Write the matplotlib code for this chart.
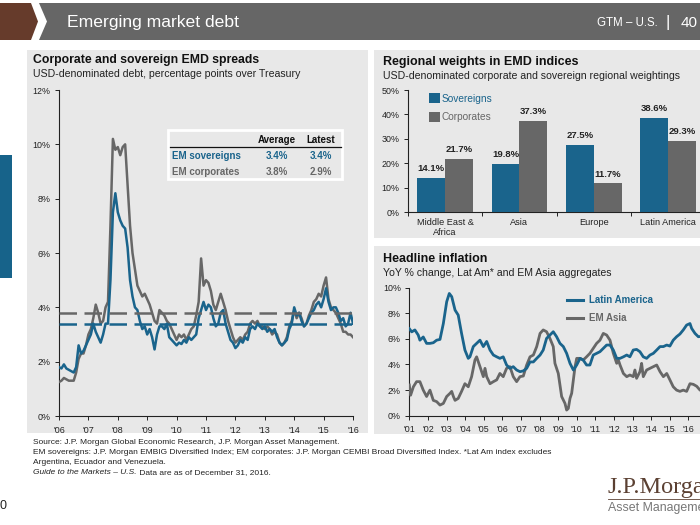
import matplotlib
matplotlib.use('Agg')
import matplotlib.pyplot as plt
import numpy as np
from matplotlib.patches import Rectangle, Polygon

plt.rcParams['font.family'] = ['Liberation Sans', 'DejaVu Sans']

BLUE = '#1a648c'
GRAY = '#676767'
PANEL = '#e8e8e8'
BROWN = '#663b2b'

# ---------------- data ----------------
spread_dates = 2006 + np.arange(121) / 12
sov_spread = [1.8, 1.75, 1.9, 1.75, 1.7, 1.65, 1.6, 1.8, 2.6, 2.3, 2.4, 2.6,
              2.8, 3.0, 3.4, 3.1, 2.9, 2.7, 3.0, 3.4, 3.4, 5.0, 7.5, 8.2,
              7.5, 7.2, 7.0, 6.9, 6.2, 5.0, 4.4, 4.0, 3.9, 3.5, 3.2, 3.3,
              3.0, 3.2, 2.9, 2.45, 3.0, 3.3, 3.3, 3.2, 3.4, 2.9, 2.8, 2.7,
              2.6, 2.7, 2.65, 2.8, 2.7, 2.9, 2.8, 2.9, 3.0, 3.6, 3.9, 4.2,
              3.9, 4.1, 4.0, 3.6, 3.3, 3.4, 3.8, 3.9, 3.4, 3.1, 2.8, 2.7,
              2.5, 2.6, 2.8, 2.7, 2.9, 2.8, 3.2, 3.3, 3.2, 3.4, 3.3, 3.2,
              3.3, 3.1, 3.2, 3.1, 3.2, 2.9, 2.7, 2.6, 2.7, 2.8, 3.2, 3.4,
              4.0, 3.7, 3.8, 3.5, 3.3, 3.4, 3.6, 3.8, 3.9, 4.1, 4.2, 4.0,
              4.3, 4.7, 4.2, 3.9, 4.0, 4.0, 3.8, 3.5, 3.6, 3.3, 3.4, 3.8, 3.4]
corp_spread = [1.25, 1.3, 1.4, 1.35, 1.3, 1.3, 1.3, 1.6, 2.1, 2.3, 2.3, 2.6,
               3.0, 3.2, 3.6, 4.1, 3.8, 3.4, 3.5, 4.0, 4.2, 7.0, 10.2, 9.8,
               9.9, 9.6, 9.9, 10.0, 8.5, 7.0, 6.0, 5.4, 4.8, 4.6, 4.4, 4.5,
               4.3, 4.1, 3.8, 3.5, 3.4, 3.9, 3.8, 3.7, 3.5, 3.4, 3.2, 3.0,
               2.8, 3.0, 2.9, 3.0, 2.8, 3.0, 3.2, 3.3, 3.7, 4.2, 5.8, 4.8,
               5.0, 4.9, 4.6, 4.1, 3.9, 4.2, 4.5, 4.2, 3.9, 3.5, 3.2, 2.9,
               2.7, 2.8, 2.9, 2.8, 3.0, 3.1, 3.4, 3.5, 3.4, 3.5, 3.3, 3.3,
               3.2, 3.3, 3.2, 3.0, 3.1, 3.0, 2.7, 2.6, 2.7, 2.9, 3.3, 3.5,
               3.9, 3.6, 3.8, 3.6, 3.3, 3.4, 3.7, 3.9, 4.2, 4.3, 4.5, 4.4,
               4.8, 5.1, 4.3, 4.0, 3.9, 3.8, 3.6, 3.4, 3.1, 3.1, 3.0, 3.0, 2.9]
sov_avg = 3.4
corp_avg = 3.8
table_rows = ['EM sovereigns', 'EM corporates']
table_avg = ['3.4%', '3.8%']
table_latest = ['3.4%', '2.9%']

regions = ['Middle East &\nAfrica', 'Asia', 'Europe', 'Latin America']
sovereign_w = [14.1, 19.8, 27.5, 38.6]
corporate_w = [21.7, 37.3, 11.7, 29.3]

latam_years = [2001.00, 2001.13, 2001.30, 2001.48, 2001.57, 2001.75, 2001.93, 2002.11,
               2002.29, 2002.47, 2002.65, 2002.83, 2003.01, 2003.15, 2003.28, 2003.46,
               2003.63, 2003.81, 2003.99, 2004.17, 2004.26, 2004.44, 2004.62, 2004.80,
               2004.98, 2005.16, 2005.34, 2005.52, 2005.70, 2005.87, 2006.05, 2006.23,
               2006.41, 2006.59, 2006.77, 2006.95, 2007.13, 2007.31, 2007.49, 2007.67,
               2007.85, 2008.03, 2008.20, 2008.38, 2008.56, 2008.74, 2008.92, 2009.10,
               2009.28, 2009.46, 2009.64, 2009.82, 2010.00, 2010.18, 2010.35, 2010.53,
               2010.71, 2010.89, 2011.07, 2011.25, 2011.43, 2011.61, 2011.79, 2011.97,
               2012.15, 2012.33, 2012.51, 2012.69, 2012.86, 2013.04, 2013.22, 2013.40,
               2013.58, 2013.76, 2013.94, 2014.12, 2014.30, 2014.48, 2014.66, 2014.84,
               2015.01, 2015.19, 2015.37, 2015.55, 2015.73, 2015.91, 2016.09, 2016.18,
               2016.36, 2016.54, 2016.72]
latam_cpi = [6.8, 6.55, 6.7, 6.3, 5.9, 6.15, 5.65, 5.65,
             5.7, 5.9, 5.96, 7.2, 8.9, 9.55, 9.3, 8.25,
             7.86, 6.43, 5.13, 4.48, 4.6, 5.4, 5.65, 5.9,
             5.4, 5.8, 5.13, 4.74, 4.6, 4.48, 4.6, 3.96,
             3.7, 3.83, 3.57, 3.44, 3.5, 3.7, 4.2, 4.2,
             4.48, 4.74, 5.13, 6.04, 6.3, 6.56, 6.17, 5.65,
             5.4, 4.87, 4.09, 3.57, 3.96, 4.48, 4.35, 3.96,
             3.96, 4.74, 4.87, 5.0, 5.26, 5.52, 5.52, 5.13,
             4.48, 4.48, 4.6, 4.74, 4.6, 5.13, 5.18, 5.0,
             4.6, 4.48, 4.74, 4.87, 5.13, 5.4, 5.4, 5.52,
             5.44, 5.9, 6.17, 6.38, 6.7, 7.08, 7.2, 6.82,
             6.43, 6.17, 6.2]
asia_years = [2001.00, 2001.07, 2001.22, 2001.39, 2001.57, 2001.75, 2001.93, 2002.11,
              2002.29, 2002.47, 2002.65, 2002.83, 2003.01, 2003.19, 2003.28, 2003.37,
              2003.46, 2003.63, 2003.81, 2003.99, 2004.17, 2004.35, 2004.53, 2004.62,
              2004.80, 2004.98, 2005.07, 2005.16, 2005.34, 2005.52, 2005.70, 2005.87,
              2006.05, 2006.23, 2006.41, 2006.59, 2006.77, 2006.95, 2007.13, 2007.31,
              2007.49, 2007.67, 2007.85, 2008.03, 2008.20, 2008.38, 2008.56, 2008.74,
              2008.83, 2009.01, 2009.19, 2009.37, 2009.46, 2009.55, 2009.64, 2009.73,
              2009.91, 2010.00, 2010.18, 2010.35, 2010.53, 2010.71, 2010.89, 2011.07,
              2011.25, 2011.43, 2011.61, 2011.79, 2011.97, 2012.15, 2012.24, 2012.33,
              2012.51, 2012.69, 2012.86, 2013.04, 2013.13, 2013.22, 2013.40, 2013.49,
              2013.58, 2013.76, 2013.94, 2014.12, 2014.30, 2014.48, 2014.66, 2014.84,
              2015.01, 2015.19, 2015.37, 2015.55, 2015.73, 2015.91, 2016.09, 2016.27,
              2016.45, 2016.63, 2016.81]
asia_cpi = [2.4, 1.6, 2.26, 2.66, 2.66, 2.0, 1.5, 2.0,
            1.2, 1.1, 0.83, 0.96, 1.5, 1.75, 1.9, 1.5,
            1.2, 1.35, 1.9, 2.5, 2.26, 3.05, 4.35, 4.6,
            3.83, 3.05, 3.7, 3.05, 2.5, 2.66, 2.8, 3.3,
            3.05, 3.7, 3.83, 3.05, 2.66, 3.05, 3.1, 3.96,
            4.6, 4.74, 5.4, 6.43, 6.7, 6.56, 6.04, 5.4,
            4.09, 3.3, 1.5, 0.96, 0.44, 0.57, 1.35, 1.75,
            3.83, 4.48, 4.48, 4.35, 4.6, 4.87, 5.26, 5.65,
            5.9, 6.43, 6.3, 5.9, 4.87, 4.09, 4.35, 3.96,
            3.3, 3.05, 3.18, 3.05, 3.57, 2.92, 3.44, 4.09,
            3.05, 3.57, 3.7, 3.83, 3.96, 3.44, 3.05, 3.3,
            2.8, 2.26, 2.0, 1.9, 2.0, 1.9, 2.5, 2.45,
            2.3, 2.0, 1.9]

# ---------------- figure ----------------
W, H = 700, 525
fig = plt.figure(figsize=(7, 5.25), dpi=100)
fig.patch.set_facecolor('white')

bg = fig.add_axes([0, 0, 1, 1], zorder=0)
bg.set_xlim(0, W)
bg.set_ylim(H, 0)
bg.axis('off')

# header
bg.add_patch(Polygon([(0, 3), (31, 3), (38, 21.5), (31, 40), (0, 40)], closed=True,
                     facecolor=BROWN, edgecolor='none'))
bg.add_patch(Polygon([(39, 3), (W, 3), (W, 40), (39, 40), (47, 21.5)], closed=True,
                     facecolor='#666666', edgecolor='none'))
hdr_font = ['Liberation Sans', 'DejaVu Sans']
bg.text(67, 22, 'Emerging market debt', color='white', fontsize=12.6, family=hdr_font,
        va='center', ha='left')
bg.text(597, 23, 'GTM – U.S.', color='white', fontsize=8.3, family=hdr_font,
        va='center', ha='left')
bg.text(668, 22, '|', color='white', fontsize=12, family=hdr_font, va='center', ha='center')
bg.text(681, 23, '40', color='white', fontsize=11, family=hdr_font, va='center', ha='left')

# panels
bg.add_patch(Rectangle((27, 50), 341, 383, facecolor=PANEL, edgecolor='none'))
bg.add_patch(Rectangle((374, 50), 330, 188, facecolor=PANEL, edgecolor='none'))
bg.add_patch(Rectangle((374, 246), 330, 188, facecolor=PANEL, edgecolor='none'))
bg.add_patch(Rectangle((0, 155), 12, 123, facecolor='#17638a', edgecolor='none'))

# panel titles
bg.text(33, 60, 'Corporate and sovereign EMD spreads', fontsize=8.8, fontweight='bold',
        color='#111111', va='center')
bg.text(33, 74, 'USD-denominated debt, percentage points over Treasury', fontsize=7.6,
        color='#222222', va='center')
bg.text(383, 62, 'Regional weights in EMD indices', fontsize=9, fontweight='bold',
        color='#111111', va='center')
bg.text(383, 76, 'USD-denominated corporate and sovereign regional weightings', fontsize=7.55,
        color='#222222', va='center')
bg.text(383, 259, 'Headline inflation', fontsize=9, fontweight='bold',
        color='#111111', va='center')
bg.text(383, 273, 'YoY % change, Lat Am* and EM Asia aggregates', fontsize=7.6,
        color='#222222', va='center')

# footnotes
fn = dict(fontsize=6.0, color='#222222', va='center', ha='left')
bg.text(33, 443, 'Source: J.P. Morgan Global Economic Research, J.P. Morgan Asset Management.', **fn)
bg.text(33, 453, 'EM sovereigns: J.P. Morgan EMBIG Diversified Index; EM corporates: J.P. Morgan '
        'CEMBI Broad Diversified Index. *Lat Am index excludes', **fn)
bg.text(33, 463, 'Argentina, Ecuador and Venezuela.', **fn)
t_it = bg.text(33, 473, 'Guide to the Markets – U.S.', style='italic', **fn)
bg.annotate(' Data are as of December 31, 2016.', xy=(1, 0.5), xycoords=t_it,
            fontsize=6.0, color='#222222', va='center', ha='left')
bg.text(0, 506, '0', fontsize=9, color='#222222', va='center', ha='left')

# logo (cut at the right edge, as in the slide crop)
bg.text(607, 488, 'J.P.Morgan', fontsize=17.5, family=['Liberation Serif', 'DejaVu Serif'],
        color='#5b4032', va='center', ha='left')
bg.plot([608, 700], [499, 499], color='#5b4032', lw=0.6)
bg.text(608, 508, 'Asset Management', fontsize=8.9, family=hdr_font, color='#777777',
        va='center', ha='left')


def style_axes(ax):
    ax.set_facecolor('none')
    for s in ['top', 'right']:
        ax.spines[s].set_visible(False)
    for s in ['left', 'bottom']:
        ax.spines[s].set_color('#222222')
        ax.spines[s].set_linewidth(0.8)
    ax.tick_params(axis='both', labelsize=6.4, colors='#222222', length=3, width=0.7,
                   direction='out')
    ax.tick_params(axis='x', pad=4)
    ax.tick_params(axis='y', pad=3)


# ---------------- left chart: spreads ----------------
ax1 = fig.add_axes([59 / W, 1 - 416 / H, 294 / W, 326 / H], zorder=2)
style_axes(ax1)
ax1.plot(spread_dates, corp_spread, color=GRAY, lw=1.8, zorder=3)
ax1.plot(spread_dates, sov_spread, color=BLUE, lw=1.8, zorder=4)
ax1.axhline(corp_avg, color=GRAY, lw=1.8, dashes=(7, 3), zorder=5)
ax1.axhline(sov_avg, color=BLUE, lw=1.8, dashes=(7, 3), zorder=5)
ax1.set_xlim(2006, 2016)
ax1.set_ylim(0, 12)
ax1.set_yticks(np.arange(0, 13, 2))
ax1.set_yticklabels([f'{v}%' for v in range(0, 13, 2)])
years1 = list(range(2006, 2017))
ax1.set_xticks(years1)
ax1.set_xticklabels([f"'{y % 100:02d}" for y in years1])

# ---------------- bar chart ----------------
ax2 = fig.add_axes([408 / W, 1 - 212 / H, 297.2 / W, 122 / H], zorder=2)
style_axes(ax2)
x = np.arange(len(regions))
bw = 0.376
ax2.bar(x - bw / 2, sovereign_w, width=bw, color=BLUE, edgecolor='none', zorder=3)
ax2.bar(x + bw / 2, corporate_w, width=bw, color=GRAY, edgecolor='none', zorder=3)
for xi, v in zip(x, sovereign_w):
    ax2.text(xi - bw / 2, v + 2.0, f'{v:.1f}%', ha='center', va='bottom', fontsize=6.8,
             fontweight='bold', color='#222222')
for xi, v in zip(x, corporate_w):
    ax2.text(xi + bw / 2, v + 2.0, f'{v:.1f}%', ha='center', va='bottom', fontsize=6.8,
             fontweight='bold', color='#222222')
ax2.set_xlim(-0.5, 3.5)
ax2.set_ylim(0, 50)
ax2.set_yticks(np.arange(0, 51, 10))
ax2.set_yticklabels([f'{v}%' for v in range(0, 51, 10)])
ax2.set_xticks(x)
ax2.set_xticklabels(regions, fontsize=6.6, linespacing=1.25)
ax2.tick_params(axis='x', length=0, pad=4)
ax2.set_xticks(np.arange(-0.5, 3.6, 1), minor=True)
ax2.tick_params(axis='x', which='minor', length=3, width=0.7, color='#222222')

bg.add_patch(Rectangle((429, 93), 11, 10, facecolor=BLUE, edgecolor='none'))
bg.add_patch(Rectangle((429, 112), 11, 10, facecolor=GRAY, edgecolor='none'))
bg.text(442, 98.5, 'Sovereigns', fontsize=7.3, color=BLUE, va='center', ha='left')
bg.text(442, 117.5, 'Corporates', fontsize=7.3, color=GRAY, va='center', ha='left')

# ---------------- inflation chart ----------------
ax3 = fig.add_axes([409.3 / W, 1 - 415.7 / H, 297.6 / W, 128 / H], zorder=2)
style_axes(ax3)
ax3.plot(asia_years, asia_cpi, color=GRAY, lw=2.0, zorder=3)
ax3.plot(latam_years, latam_cpi, color=BLUE, lw=2.0, zorder=4)
ax3.set_xlim(2001, 2017)
ax3.set_ylim(0, 10)
ax3.set_yticks(np.arange(0, 11, 2))
ax3.set_yticklabels([f'{v}%' for v in range(0, 11, 2)])
years3 = list(range(2001, 2017))
ax3.set_xticks(years3)
ax3.set_xticklabels([f"'{y % 100:02d}" for y in years3])

bg.plot([567, 583], [300, 300], color=BLUE, lw=2.2)
bg.plot([567, 583], [318, 318], color=GRAY, lw=2.2)
bg.text(589, 300, 'Latin America', fontsize=7, fontweight='bold', color=BLUE, va='center')
bg.text(589, 318, 'EM Asia', fontsize=7, fontweight='bold', color=GRAY, va='center')

# overlay for the summary table (above spread lines)
ov = fig.add_axes([0, 0, 1, 1], zorder=5)
ov.set_xlim(0, W)
ov.set_ylim(H, 0)
ov.axis('off')
ov.set_facecolor('none')
ov.add_patch(Rectangle((168, 130), 174, 49, facecolor=PANEL, edgecolor='white', lw=2))
ov.text(277, 140, 'Average', fontsize=7, fontweight='bold', color='#111111', ha='center', va='center')
ov.text(321, 140, 'Latest', fontsize=7, fontweight='bold', color='#111111', ha='center', va='center')
ov.plot([170, 341], [147, 147], color='#111111', lw=0.9)
for i, (name, a, l) in enumerate(zip(table_rows, table_avg, table_latest)):
    c = BLUE if i == 0 else GRAY
    yy = 156 + 16 * i
    ov.text(172, yy, name, fontsize=7, fontweight='bold', color=c, ha='left', va='center')
    ov.text(277, yy, a, fontsize=7, fontweight='bold', color=c, ha='center', va='center')
    ov.text(321, yy, l, fontsize=7, fontweight='bold', color=c, ha='center', va='center')

fig.savefig('out.png', dpi=100)
